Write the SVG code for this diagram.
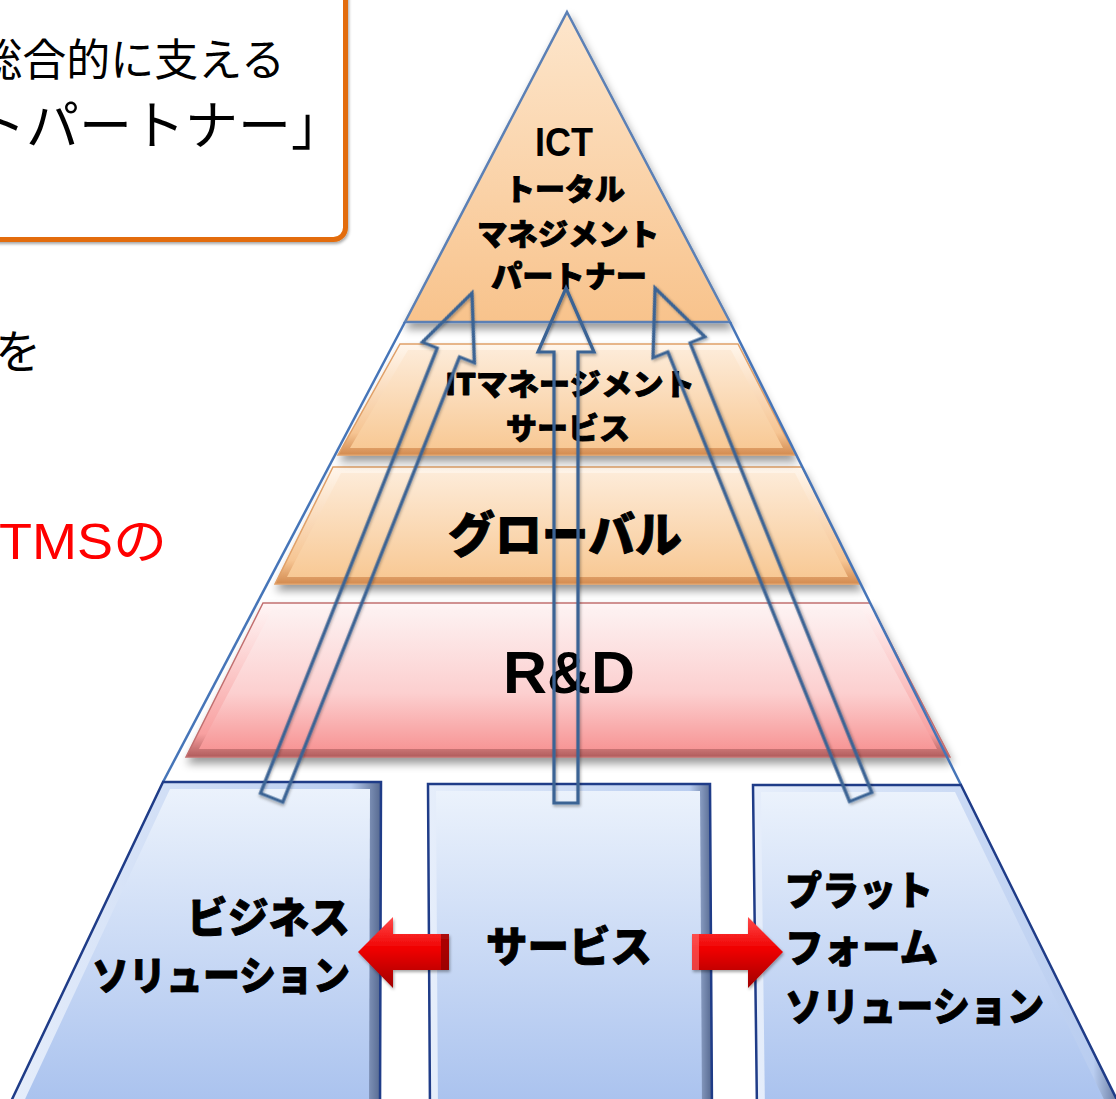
<svg xmlns="http://www.w3.org/2000/svg" width="1116" height="1099" viewBox="0 0 1116 1099">
<style>
.jp{font-family:"Noto Sans CJK JP","Noto Sans",sans-serif;}
.b{font-weight:900;fill:#000;stroke:#000;stroke-width:0.9;stroke-linejoin:round;}
.lat{font-family:"Liberation Sans",Arial,sans-serif;font-weight:700;fill:#000;}
.outline{fill:none;stroke:#4675b8;stroke-width:2.5;}
.hollow{fill:none;stroke:#3b6394;stroke-width:3.2;stroke-linejoin:miter;}
</style>
<defs>
<filter id="sh" x="-10%" y="-10%" width="120%" height="130%">
<feDropShadow dx="2" dy="6" stdDeviation="4" flood-color="#000" flood-opacity="0.4"/>
</filter>
<filter id="shs" x="-10%" y="-10%" width="120%" height="120%">
<feDropShadow dx="1" dy="2" stdDeviation="1.5" flood-color="#000" flood-opacity="0.35"/>
</filter>
<linearGradient id="triFace" x1="0" y1="0" x2="0" y2="1">
<stop offset="0" stop-color="#fde6cc"/><stop offset="1" stop-color="#f8c38c"/>
</linearGradient>
<linearGradient id="orEdge" x1="0" y1="0" x2="0" y2="1">
<stop offset="0" stop-color="#fff6ec"/><stop offset="0.8" stop-color="#f6c593"/><stop offset="1" stop-color="#d38b50"/>
</linearGradient>
<linearGradient id="orFace" x1="0" y1="0" x2="0" y2="1">
<stop offset="0" stop-color="#fdebd8"/><stop offset="1" stop-color="#f8c995"/>
</linearGradient>
<linearGradient id="rdEdge" x1="0" y1="0" x2="0" y2="1">
<stop offset="0" stop-color="#fff6f6"/><stop offset="0.85" stop-color="#f8a0a0"/><stop offset="1" stop-color="#b05c5c"/>
</linearGradient>
<linearGradient id="rdFace" x1="0" y1="0" x2="0" y2="1">
<stop offset="0" stop-color="#fdf1f1"/><stop offset="0.6" stop-color="#fccfcf"/><stop offset="1" stop-color="#f79696"/>
</linearGradient>
<linearGradient id="blEdge" x1="0" y1="0" x2="1" y2="0">
<stop offset="0" stop-color="#e6eefb"/><stop offset="0.92" stop-color="#b9cdf0"/><stop offset="1" stop-color="#55688f"/>
</linearGradient>
<linearGradient id="blFace" x1="0" y1="0" x2="0" y2="1">
<stop offset="0" stop-color="#ebf2fc"/><stop offset="1" stop-color="#a8c1ee"/>
</linearGradient>
<linearGradient id="red" x1="0" y1="0" x2="0" y2="1">
<stop offset="0" stop-color="#ff4a4a"/><stop offset="0.45" stop-color="#f00000"/><stop offset="1" stop-color="#a00000"/>
</linearGradient>
</defs>
<rect width="1116" height="1099" fill="#fff"/>

<g id="box-intro">
<rect x="-20" y="-20" width="365.5" height="259.5" rx="12" fill="#fff" stroke="#e36c09" stroke-width="5" filter="url(#shs)"/>
<text class="jp" x="285" y="76" font-size="44" text-anchor="end" fill="#000">総合的に支える</text>
<text class="jp" x="344" y="145" font-size="53" text-anchor="end" fill="#000">トパートナー」</text>
</g>
<g id="text-wo"><text class="jp" x="-5" y="368" font-size="46" fill="#000">を</text></g>
<g id="text-tms"><text x="-1" y="559" font-size="50" fill="#ff0000" textLength="168" lengthAdjust="spacingAndGlyphs" style="font-family:'Liberation Sans','Noto Sans CJK JP',sans-serif">TMSの</text></g>

<g id="layer-rd">
<polygon points="263,603 870,603 950,757 186,757" fill="url(#rdEdge)" stroke="#c27070" stroke-width="1.5" filter="url(#sh)"/>
<polygon points="272,610 862,610 937,749 199,749" fill="url(#rdFace)"/>
<text class="lat" x="569" y="693" font-size="60" text-anchor="middle" textLength="132" lengthAdjust="spacingAndGlyphs">R&amp;D</text>
</g>
<g id="layer-global">
<polygon points="333,467 802,467 860,584 275,584" fill="url(#orEdge)" stroke="#e0a068" stroke-width="1.5" filter="url(#sh)"/>
<polygon points="341,473 795,473 848,577 287,577" fill="url(#orFace)"/>
<text class="jp b" x="565" y="552" font-size="48" text-anchor="middle" textLength="234" lengthAdjust="spacingAndGlyphs">グローバル</text>
</g>
<g id="layer-itms">
<polygon points="400,344 738,344 795,455 338,455" fill="url(#orEdge)" stroke="#e0a068" stroke-width="1.5" filter="url(#sh)"/>
<polygon points="408,350 731,350 783,448 350,448" fill="url(#orFace)"/>
<text class="jp b" x="570" y="395" font-size="30" text-anchor="middle" textLength="250" lengthAdjust="spacingAndGlyphs">ITマネージメント</text>
<text class="jp b" x="568" y="439" font-size="30" text-anchor="middle" textLength="124" lengthAdjust="spacingAndGlyphs">サービス</text>
</g>
<g id="layer-ict">
<polygon points="567,12 730,322 405,322" fill="url(#triFace)" stroke="#5b80b5" stroke-width="2.5" filter="url(#sh)"/>
<text class="lat" x="564" y="156" font-size="40" text-anchor="middle" textLength="58" lengthAdjust="spacingAndGlyphs">ICT</text>
<text class="jp b" x="565" y="200" font-size="30" text-anchor="middle" textLength="120" lengthAdjust="spacingAndGlyphs">トータル</text>
<text class="jp b" x="568" y="245" font-size="30" text-anchor="middle" textLength="182" lengthAdjust="spacingAndGlyphs">マネジメント</text>
<text class="jp b" x="569" y="287" font-size="30" text-anchor="middle" textLength="156" lengthAdjust="spacingAndGlyphs">パートナー</text>
</g>

<g id="pyramid-outline">
<line class="outline" x1="405" y1="322" x2="163" y2="782"/>
<line class="outline" x1="730" y1="322" x2="961" y2="785"/>
</g>

<g id="box-business">
<polygon points="163,782 381,782 380,1112 6,1112" fill="url(#blEdge)" stroke="#1f3c88" stroke-width="2.5"/>
<polygon points="170,789 370,789 369,1112 19,1112" fill="url(#blFace)"/>
<text class="jp b" x="350" y="933" font-size="42" text-anchor="end" textLength="163" lengthAdjust="spacingAndGlyphs">ビジネス</text>
<text class="jp b" x="350" y="990" font-size="40" text-anchor="end" textLength="258" lengthAdjust="spacingAndGlyphs">ソリューション</text>
</g>
<g id="box-service">
<polygon points="428,784 710,784 712,1112 430,1112" fill="url(#blEdge)" stroke="#1f3c88" stroke-width="2.5"/>
<polygon points="436,791 700,791 702,1112 438,1112" fill="url(#blFace)"/>
<text class="jp b" x="569" y="962" font-size="42" text-anchor="middle" textLength="166" lengthAdjust="spacingAndGlyphs">サービス</text>
</g>
<g id="box-platform">
<polygon points="753,785 961,785 1123,1112 757,1112" fill="url(#blEdge)" stroke="#1f3c88" stroke-width="2.5"/>
<polygon points="761,792 955,792 1110,1112 765,1112" fill="url(#blFace)"/>
<text class="jp b" x="785" y="905" font-size="40" text-anchor="start" textLength="148" lengthAdjust="spacingAndGlyphs">プラット</text>
<text class="jp b" x="785" y="962" font-size="40" text-anchor="start" textLength="153" lengthAdjust="spacingAndGlyphs">フォーム</text>
<text class="jp b" x="785" y="1021" font-size="40" text-anchor="start" textLength="259" lengthAdjust="spacingAndGlyphs">ソリューション</text>
</g>

<g id="connectors">
<path class="hollow" filter="url(#shs)" transform="translate(472,293) rotate(21.65)" d="M0,0 L28,64 L12,64 L12,543 L-12,543 L-12,64 L-28,64 Z"/>
<path class="hollow" filter="url(#shs)" transform="translate(566,288)" d="M0,0 L28,64 L12,64 L12,515 L-12,515 L-12,64 L-28,64 Z"/>
<path class="hollow" filter="url(#shs)" transform="translate(655,288) rotate(-22)" d="M0,0 L28,64 L12,64 L12,549 L-12,549 L-12,64 L-28,64 Z"/>
<g filter="url(#shs)">
<polygon points="358,952 393,917 393,934 449,934 449,970 393,970 393,988" fill="url(#red)"/>
<polygon points="441,934 449,934 449,970 441,970" fill="#8a0000" opacity="0.7"/>
<polygon points="783,952 748,917 748,934 692,934 692,970 748,970 748,988" fill="url(#red)"/>
<polygon points="692,934 699,934 699,970 692,970" fill="#ff6a6a" opacity="0.6"/>
</g>
</g>
</svg>
